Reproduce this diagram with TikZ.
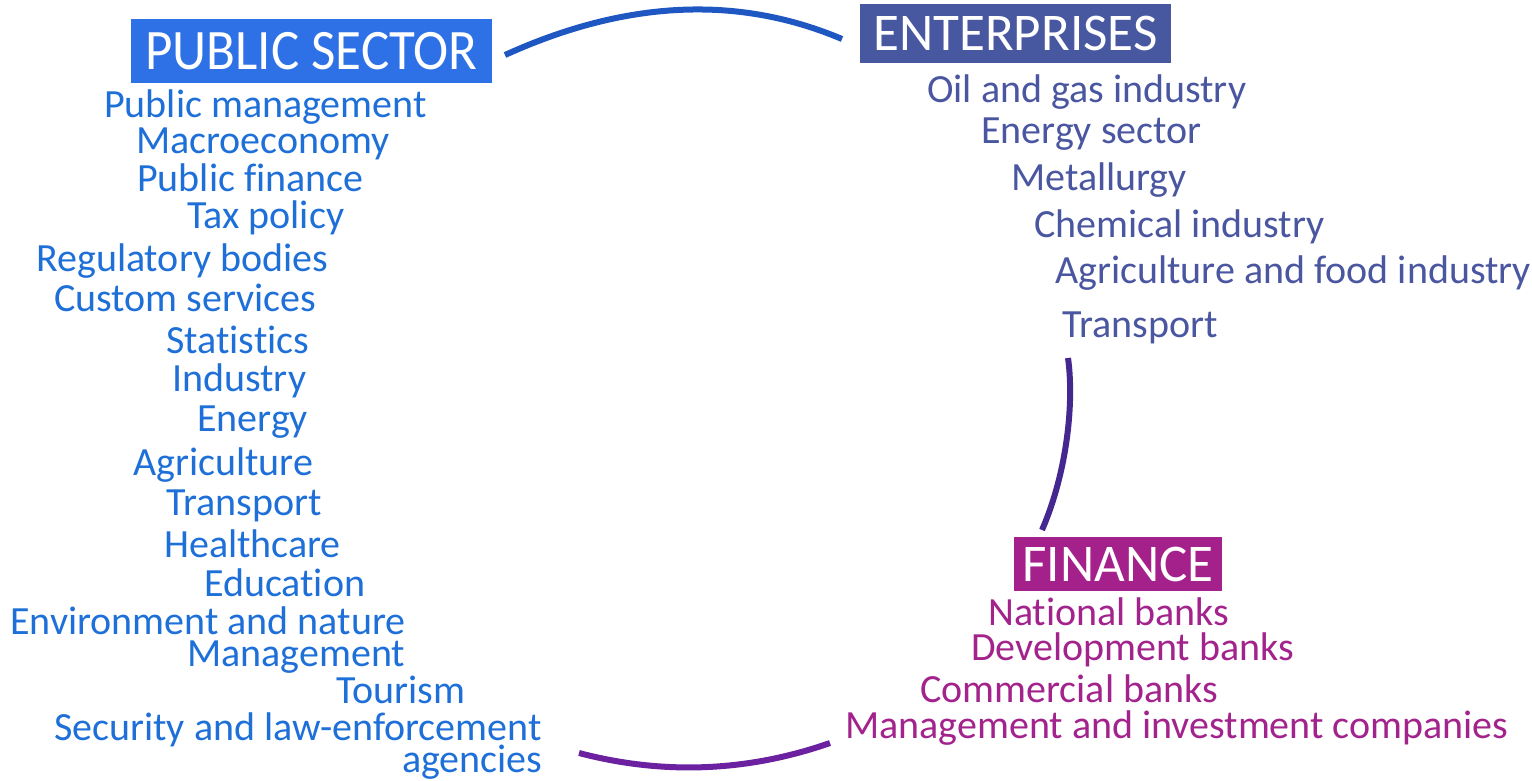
\documentclass[tikz,border=0pt]{standalone}
\usepackage{fontspec}
\setmainfont{Carlito}[Ligatures=NoCommon]
\definecolor{pubfill}{RGB}{46,112,230}
\definecolor{pubtext}{RGB}{30,112,216}
\definecolor{entfill}{RGB}{71,87,160}
\definecolor{enttext}{RGB}{74,86,160}
\definecolor{finfill}{RGB}{164,32,139}
\definecolor{fintext}{RGB}{163,35,141}
\definecolor{arctop}{RGB}{30,86,194}
\definecolor{arcright}{RGB}{69,40,143}
\definecolor{arcbottom}{RGB}{107,33,160}
\begin{document}
\begin{tikzpicture}[x=1pt,y=-1pt,
  item/.style={anchor=base west, inner sep=0pt, font=\fontsize{40}{48}\selectfont},
  pubitem/.style={item, text=pubtext},
  entitem/.style={item, text=enttext},
  finitem/.style={item, text=fintext},
  header/.style={inner sep=0pt, text=white, font=\fontsize{53}{60}\selectfont},
  arcline/.style={line width=6pt}]
\useasboundingbox (0,0) rectangle (1532,780);

% headers
\node[header, fill=pubfill, minimum width=361pt, minimum height=64pt] (hps) at (311.5,51) {\scalebox{1}[1.08]{PUBLIC SECTOR}};
\node[header, fill=entfill, minimum width=311pt, minimum height=59pt] (hent) at (1015.5,33.5) {ENTERPRISES};
\node[header, fill=finfill, minimum width=208pt, minimum height=54pt] (hfin) at (1118,564) {FINANCE};

% public sector items
\node[pubitem] (p1) at (104,117) {Public management};
\node[pubitem] (p2) at (136,153) {Macroeconomy};
\node[pubitem] (p3) at (137,191) {Public finance};
\node[pubitem] (p4) at (187,228) {Tax policy};
\node[pubitem] (p5) at (36,271) {Regulatory bodies};
\node[pubitem] (p6) at (54,311) {Custom services};
\node[pubitem] (p7) at (166,353) {Statistics};
\node[pubitem] (p8) at (172,391) {Industry};
\node[pubitem] (p9) at (197,431) {Energy};
\node[pubitem] (p10) at (133,475) {Agriculture};
\node[pubitem] (p11) at (166,515) {Transport};
\node[pubitem] (p12) at (164,557) {Healthcare};
\node[pubitem] (p13) at (204,596) {Education};
\node[pubitem] (p14) at (10,634) {Environment and nature};
\node[pubitem] (p15) at (187,666) {Management};
\node[pubitem] (p16) at (336,703) {Tourism};
\node[pubitem] (p17) at (54,740) {Security and law-enforcement};
\node[pubitem] (p18) at (402,772) {agencies};

% enterprise items
\node[entitem] (e1) at (927,102) {Oil and gas industry};
\node[entitem] (e2) at (981,143) {Energy sector};
\node[entitem] (e3) at (1011,190) {Metallurgy};
\node[entitem] (e4) at (1034,237) {Chemical industry};
\node[entitem] (e5) at (1055,283) {Agriculture and food industry};
\node[entitem] (e6) at (1062,337) {Transport};

% finance items
\node[finitem] (f1) at (988,625) {National banks};
\node[finitem] (f2) at (971,660) {Development banks};
\node[finitem] (f3) at (920,702) {Commercial banks};
\node[finitem] (f4) at (845,738) {Management and investment companies};

% arc end points
\coordinate (t1) at (505,55);
\coordinate (t2) at (842,39);
\coordinate (r1) at (1068,358);
\coordinate (r2) at (1042,530);
\coordinate (b1) at (579,753);
\coordinate (b2) at (830,743);

\draw[arcline, draw=arctop] (t1) .. controls (626,0) and (738,-5) .. (t2);
\draw[arcline, draw=arcright] (r1) .. controls (1074,400) and (1068,470) .. (r2);
\draw[arcline, draw=arcbottom] (b1) .. controls (663,775) and (747,772) .. (b2);
\end{tikzpicture}
\end{document}
